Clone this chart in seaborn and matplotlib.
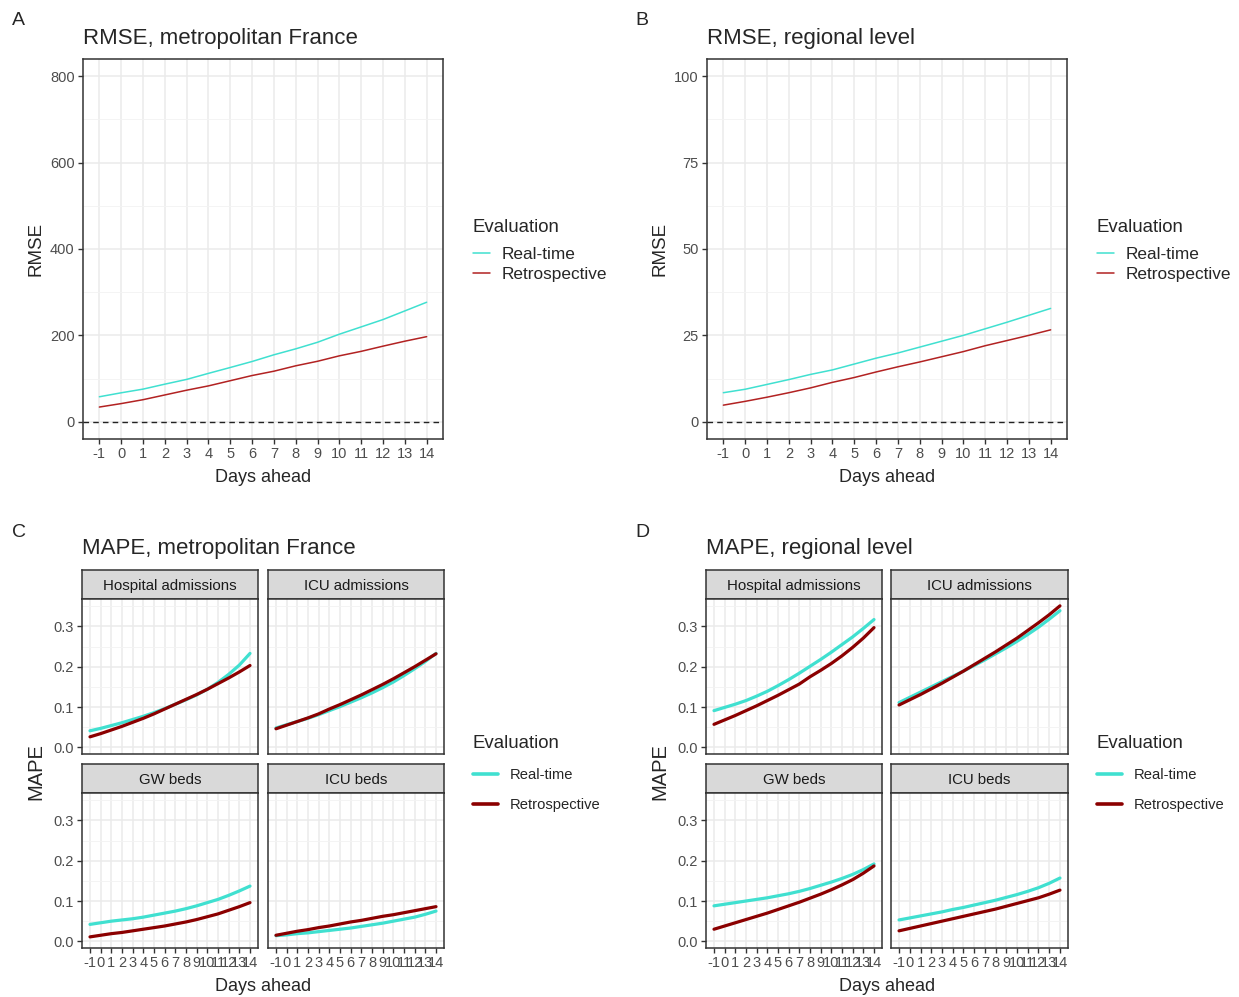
import numpy as np
import pandas as pd
import matplotlib
matplotlib.use("Agg")
import matplotlib.pyplot as plt
import seaborn as sns
from matplotlib.lines import Line2D

# ---------------- data ----------------
days = list(range(-1, 15))
evaluations = ["Real-time", "Retrospective"]
indicators = ["Hospital admissions", "ICU admissions", "GW beds", "ICU beds"]

rmse_france_rt = [57.8, 67, 75.5, 87, 98, 112, 125.6, 139.5, 155, 168.8, 184, 202.7, 219.6, 236.6, 256.6, 276.7]
rmse_france_retro = [34, 42, 51, 62, 73, 83, 95, 107, 117, 129.5, 140, 152.6, 163, 175, 186.5, 197]
rmse_region_rt = [8.4, 9.4, 10.8, 12.2, 13.7, 15, 16.7, 18.4, 19.9, 21.6, 23.3, 25, 26.9, 28.8, 30.8, 32.8]
rmse_region_retro = [4.8, 5.9, 7.1, 8.4, 9.8, 11.4, 12.8, 14.4, 15.9, 17.3, 18.8, 20.3, 22, 23.5, 25, 26.6]

# MAPE, metropolitan France
mape_fr_hosp_rt = [.041, .047, .054, .061, .069, .077, .086, .096, .107, .118, .130, .144, .161, .181, .204, .233]
mape_fr_hosp_retro = [.026, .034, .043, .052, .062, .072, .083, .095, .107, .119, .131, .144, .158, .172, .187, .203]
mape_fr_icuadm_rt = [.048, .056, .064, .072, .081, .091, .101, .112, .123, .135, .148, .162, .178, .195, .213, .233]
mape_fr_icuadm_retro = [.046, .055, .064, .073, .083, .095, .106, .118, .130, .143, .156, .170, .185, .200, .216, .232]
mape_fr_gw_rt = [.042, .046, .050, .053, .056, .060, .065, .070, .075, .081, .088, .096, .104, .114, .125, .137]
mape_fr_gw_retro = [.011, .015, .019, .022, .026, .030, .034, .038, .043, .048, .054, .061, .068, .077, .086, .096]
mape_fr_icubeds_rt = [.014, .016, .019, .021, .024, .027, .030, .033, .037, .041, .045, .050, .055, .060, .067, .075]
mape_fr_icubeds_retro = [.015, .020, .025, .029, .034, .038, .043, .048, .052, .057, .062, .066, .071, .076, .081, .086]

# MAPE, regional level
mape_rg_hosp_rt = [.091, .099, .107, .116, .127, .139, .153, .168, .184, .201, .218, .236, .255, .274, .295, .317]
mape_rg_hosp_retro = [.057, .068, .079, .091, .103, .116, .129, .143, .157, .175, .191, .208, .227, .248, .271, .297]
mape_rg_icuadm_rt = [.111, .124, .137, .150, .163, .176, .189, .203, .217, .232, .247, .263, .280, .298, .318, .339]
mape_rg_icuadm_retro = [.105, .118, .131, .145, .159, .174, .189, .205, .221, .237, .254, .271, .290, .309, .329, .351]
mape_rg_gw_rt = [.088, .092, .096, .100, .104, .108, .113, .118, .124, .131, .139, .147, .156, .166, .178, .192]
mape_rg_gw_retro = [.030, .038, .046, .054, .062, .070, .079, .088, .097, .107, .117, .128, .140, .153, .169, .187]
mape_rg_icubeds_rt = [.053, .058, .063, .068, .073, .079, .084, .090, .096, .102, .109, .116, .124, .133, .144, .157]
mape_rg_icubeds_retro = [.026, .032, .038, .044, .050, .056, .062, .068, .074, .080, .087, .094, .101, .108, .117, .127]

colors_thin = {"Real-time": "#40E0D0", "Retrospective": "#B22222"}
colors_thick = {"Real-time": "#40E0D0", "Retrospective": "#8B0000"}


def long_df(rt, retro):
    return pd.DataFrame({
        "day": days * 2,
        "value": list(rt) + list(retro),
        "Evaluation": ["Real-time"] * len(days) + ["Retrospective"] * len(days),
    })


mape_fr = {
    "Hospital admissions": (mape_fr_hosp_rt, mape_fr_hosp_retro),
    "ICU admissions": (mape_fr_icuadm_rt, mape_fr_icuadm_retro),
    "GW beds": (mape_fr_gw_rt, mape_fr_gw_retro),
    "ICU beds": (mape_fr_icubeds_rt, mape_fr_icubeds_retro),
}
mape_rg = {
    "Hospital admissions": (mape_rg_hosp_rt, mape_rg_hosp_retro),
    "ICU admissions": (mape_rg_icuadm_rt, mape_rg_icuadm_retro),
    "GW beds": (mape_rg_gw_rt, mape_rg_gw_retro),
    "ICU beds": (mape_rg_icubeds_rt, mape_rg_icubeds_retro),
}

# ---------------- figure ----------------
sns.set_theme(style="white")
plt.rcParams['font.family'] = ['Liberation Sans', 'DejaVu Sans']
plt.rcParams['axes.unicode_minus'] = False

W, H = 1239, 997
fig = plt.figure(figsize=(W / 100, H / 100), dpi=100)
fig.patch.set_facecolor("white")


def add_ax(l, t, r, b):
    return fig.add_axes([l / W, 1 - b / H, (r - l) / W, (b - t) / H])


def style(ax, ymajor, yminor, ylim, show_x=True, show_y=True):
    ax.set_xlim(-1.75, 14.75)
    ax.set_ylim(*ylim)
    ax.set_xticks(days)
    ax.set_yticks(ymajor)
    ax.set_yticks(yminor, minor=True)
    ax.grid(which='major', color='#EBEBEB', lw=1.1)
    ax.grid(which='minor', axis='y', color='#F3F3F3', lw=0.6)
    ax.set_axisbelow(True)
    for s in ax.spines.values():
        s.set_visible(True)
        s.set_color('#333333')
        s.set_linewidth(1.1)
    ax.tick_params(which='major', length=3.5, width=1, color='#333333', labelsize=10.5,
                   labelcolor='#4D4D4D', pad=2.5, left=show_y, bottom=show_x,
                   labelleft=show_y, labelbottom=show_x)
    ax.tick_params(which='minor', length=0)
    ax.set_xlabel('')
    ax.set_ylabel('')


def legend(x, title_y, row_top, lw, fs, hl, htp, ls, cols):
    fig.text(x / W, 1 - title_y / H, "Evaluation", fontsize=13.4, va='center_baseline', ha='left')
    handles = [Line2D([], [], color=cols[e], lw=lw) for e in evaluations]
    fig.legend(handles, evaluations, loc='upper left',
               bbox_to_anchor=(x / W, 1 - row_top / H), frameon=False, fontsize=fs,
               handlelength=hl, handletextpad=htp,
               labelspacing=ls, borderpad=0, borderaxespad=0)


# ---- Panels A & B (RMSE) ----
rmse_panels = [
    (83, 443, long_df(rmse_france_rt, rmse_france_retro), [0, 200, 400, 600, 800], [100, 300, 500, 700], (-40, 840),
     "A", 12, "RMSE, metropolitan France", 473),
    (707, 1067, long_df(rmse_region_rt, rmse_region_retro), [0, 25, 50, 75, 100], [12.5, 37.5, 62.5, 87.5], (-5, 105),
     "B", 635, "RMSE, regional level", 1097),
]
for l, r, df, ymaj, ymin, ylim, lab, labx, title, legx in rmse_panels:
    ax = add_ax(l, 59, r, 439)
    ax.axhline(0, color='#222222', lw=1.0, ls=(0, (4, 3)), zorder=1)
    sns.lineplot(data=df, x="day", y="value", hue="Evaluation", palette=colors_thin,
                 hue_order=evaluations, lw=1.1, legend=False, ax=ax, zorder=3)
    style(ax, ymaj, ymin, ylim)
    fig.text(labx / W, 1 - 25 / H, lab, fontsize=14, va='baseline', ha='left')
    fig.text(l / W, 1 - 44 / H, title, fontsize=16, va='baseline', ha='left')
    fig.text((l - 47) / W, 1 - 249 / H, "RMSE", fontsize=13.5, rotation=90, va='center', ha='center')
    fig.text(((l + r) / 2) / W, 1 - 477 / H, "Days ahead", fontsize=13, va='center', ha='center')
    legend(legx, 226, 247, 1.1, 12.4, 1.0, 0.64, 0.27, colors_thin)

# ---- Panels C & D (MAPE) ----
mape_panels = [
    ((82, 258), (268, 444), mape_fr, "C", 12, "MAPE, metropolitan France", 473),
    ((706, 882), (891, 1068), mape_rg, "D", 635, "MAPE, regional level", 1097),
]
rows = [(570, 599, 754), (764, 793, 948)]
for col1, col2, data, lab, labx, title, legx in mape_panels:
    for i, ind in enumerate(indicators):
        st, pt, pb = rows[i // 2]
        l, r = (col1, col2)[i % 2]
        sax = add_ax(l, st, r, pt)
        sax.set_facecolor('#D9D9D9')
        sax.set_xticks([])
        sax.set_yticks([])
        for s in sax.spines.values():
            s.set_visible(True)
            s.set_color('#333333')
            s.set_linewidth(1.1)
        sax.text(0.5, 0.5, ind, transform=sax.transAxes, ha='center', va='center_baseline',
                 fontsize=10.8, color='#1A1A1A')
        ax = add_ax(l, pt, r, pb)
        rt, retro = data[ind]
        sns.lineplot(data=long_df(rt, retro), x="day", y="value", hue="Evaluation",
                     palette=colors_thick, hue_order=evaluations, lw=2.3, legend=False, ax=ax)
        style(ax, [0.0, 0.1, 0.2, 0.3], [0.05, 0.15, 0.25, 0.35], (-0.0166, 0.368),
              show_x=(i // 2 == 1), show_y=(i % 2 == 0))
        ax.set_yticklabels(["0.0", "0.1", "0.2", "0.3"])
    fig.text(labx / W, 1 - 537 / H, lab, fontsize=14, va='baseline', ha='left')
    fig.text(col1[0] / W, 1 - 554 / H, title, fontsize=16, va='baseline', ha='left')
    fig.text((col1[0] - 46) / W, 1 - 772 / H, "MAPE", fontsize=14.5, rotation=90, va='center', ha='center')
    fig.text(((col1[0] + col2[1]) / 2) / W, 1 - 986 / H, "Days ahead", fontsize=13, va='center', ha='center')
    legend(legx, 741, 768, 2.6, 10.6, 1.7, 0.8, 1.12, colors_thick)

fig.savefig("out.png", dpi=100, facecolor="white")
